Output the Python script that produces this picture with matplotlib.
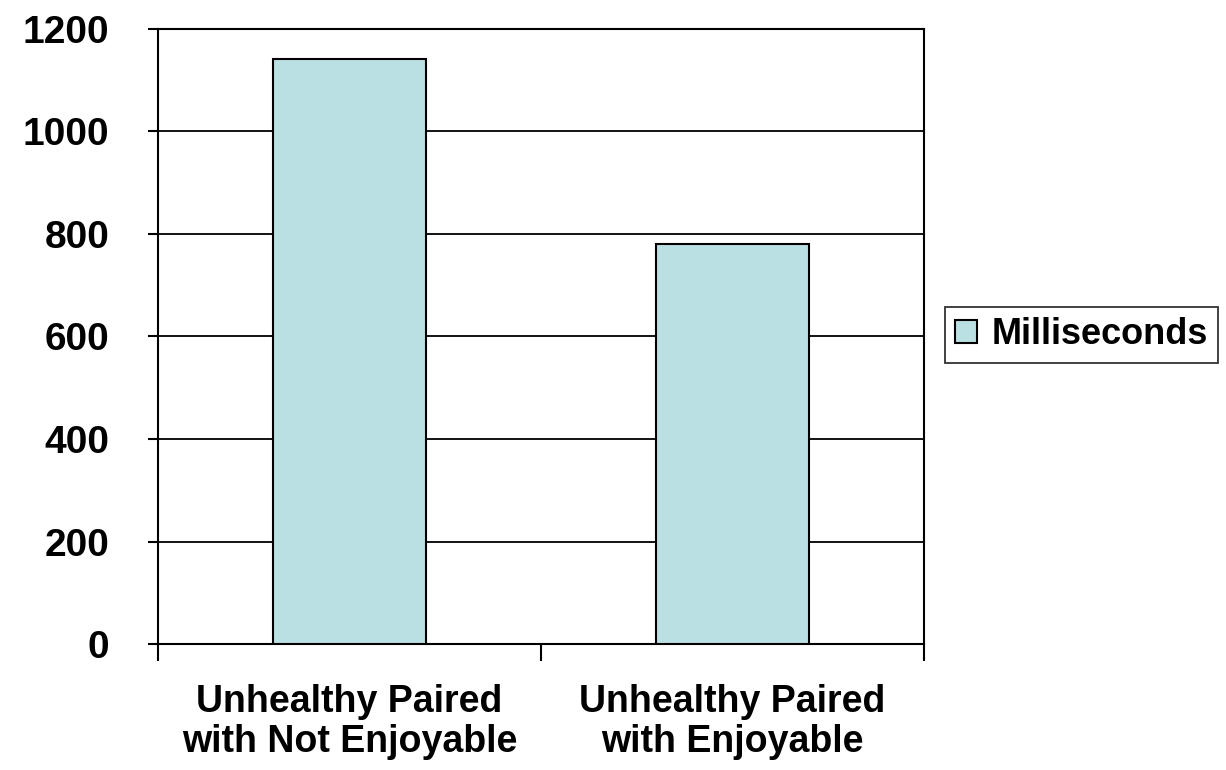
import matplotlib.pyplot as plt

categories = ['Unhealthy Paired\nwith Not Enjoyable', 'Unhealthy Paired\nwith Enjoyable']
milliseconds = [1142, 780]
yticks = [0, 200, 400, 600, 800, 1000, 1200]

plt.rcParams['font.family'] = ['Liberation Sans', 'DejaVu Sans']
plt.rcParams['font.weight'] = 'bold'

fig = plt.figure(figsize=(12.26, 7.7), dpi=100)
ax = fig.add_axes([158 / 1226, 1 - 644 / 770, (924 - 158) / 1226, (644 - 29) / 770])

pos = [0.5, 1.5]
ax.bar(pos, milliseconds, width=0.4, color='#BBE0E3', edgecolor='black',
       linewidth=1.5, label='Milliseconds', zorder=3)

ax.set_xlim(0, 2)
ax.set_ylim(0, 1200)
ax.set_yticks(yticks)
ax.yaxis.grid(True, color='black', linewidth=1.3, zorder=0)
ax.set_axisbelow(True)

# category ticks sit on the boundaries, labels in between
ax.set_xticks([0, 1, 2])
ax.set_xticklabels([])
ax.set_xticks(pos, minor=True)
ax.set_xticklabels(categories, minor=True, fontsize=27, fontweight='bold',
                   linespacing=1.15)
ax.tick_params(axis='x', which='minor', length=0, pad=29)
ax.tick_params(axis='x', which='major', length=12, width=1.5, direction='out')
ax.tick_params(axis='y', length=7, width=1.5, direction='out', labelsize=28, pad=28)
for lab in ax.get_yticklabels():
    lab.set_fontweight('bold')

for s in ax.spines.values():
    s.set_linewidth(1.5)

leg = fig.legend(loc='center left', bbox_to_anchor=(945 / 1226, 1 - 335 / 770),
                 borderaxespad=0, frameon=True, fancybox=False, edgecolor='black',
                 handlelength=0.6, handleheight=0.6, handletextpad=0.4,
                 borderpad=0.28, prop={'weight': 'bold', 'size': 26})
leg.get_frame().set_linewidth(1.3)

fig.savefig('out.png', dpi=100)
